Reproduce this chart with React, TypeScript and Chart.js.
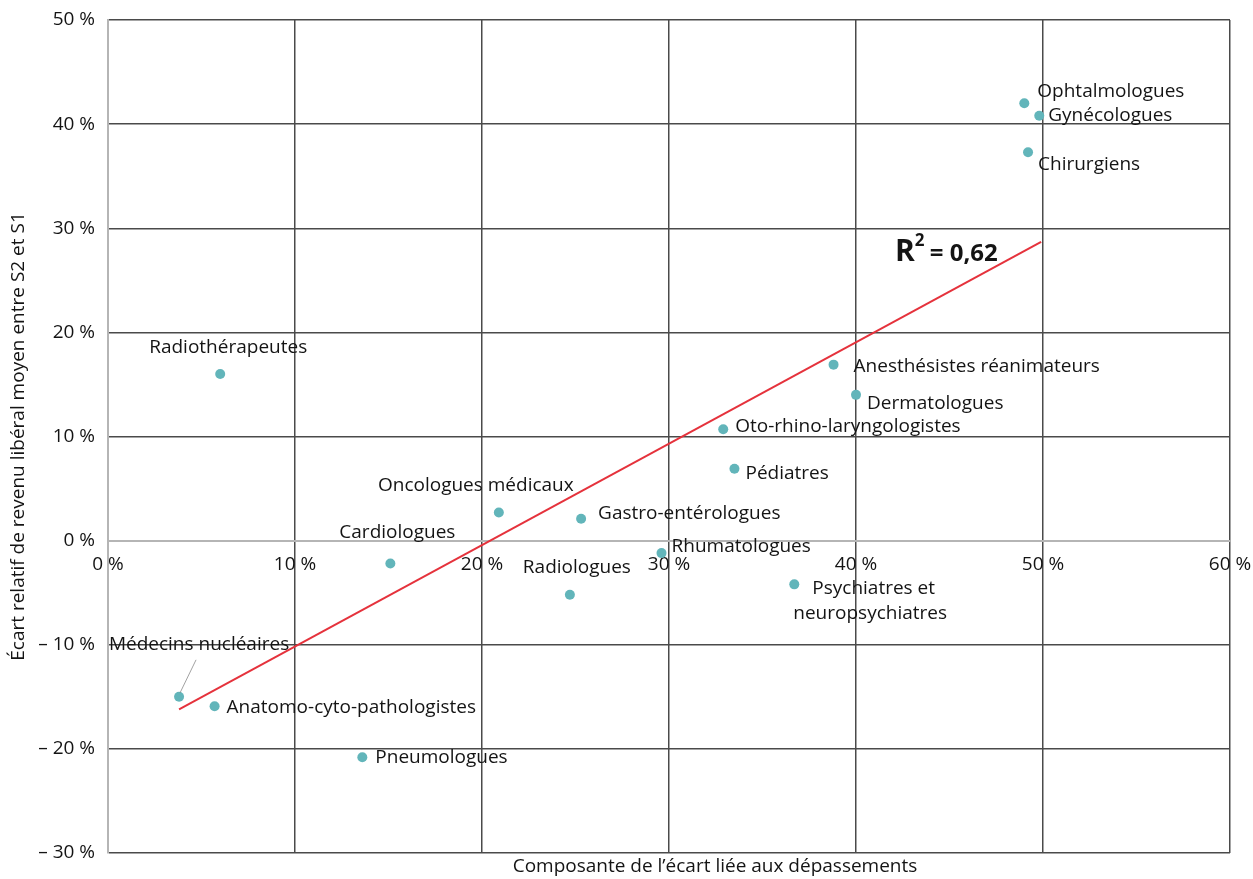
import React, { useEffect, useRef } from 'react';
import { Chart, registerables } from 'chart.js';

Chart.register(...registerables);

// ---- Data ----
const specialties = [
  'Ophtalmologues',
  'Gynécologues',
  'Chirurgiens',
  'Radiothérapeutes',
  'Anesthésistes réanimateurs',
  'Dermatologues',
  'Oto-rhino-laryngologistes',
  'Pédiatres',
  'Oncologues médicaux',
  'Gastro-entérologues',
  'Cardiologues',
  'Rhumatologues',
  'Radiologues',
  'Psychiatres et\nneuropsychiatres',
  'Médecins nucléaires',
  'Anatomo-cyto-pathologistes',
  'Pneumologues',
];
// Composante de l'écart liée aux dépassements (%)
const depassementShare = [49.0, 49.8, 49.2, 6.0, 38.8, 40.0, 32.9, 33.5, 20.9, 25.3, 15.1, 29.6, 24.7, 36.7, 3.8, 5.7, 13.6];
// Écart relatif de revenu libéral moyen entre S2 et S1 (%)
const revenueGap = [42.0, 40.8, 37.3, 16.0, 16.9, 14.0, 10.7, 6.9, 2.7, 2.1, -2.2, -1.2, -5.2, -4.2, -15.0, -15.9, -20.8];
// Trend line ends
const trendX = [3.8, 49.9];
const trendY = [-16.2, 28.7];
const r2Value = '0,62';
const xTitle = 'Composante de l’écart liée aux dépassements';
const yTitle = 'Écart relatif de revenu libéral moyen entre S2 et S1';

// ---- Label placement (pixel offsets from each point) ----
type Place = { align: 'left' | 'center'; dx: number[]; dy: number; leader?: boolean };
const placements: Place[] = [
  { align: 'left', dx: [13], dy: -12 },
  { align: 'left', dx: [9], dy: 0 },
  { align: 'left', dx: [10], dy: 12 },
  { align: 'center', dx: [8], dy: -26 },
  { align: 'left', dx: [20], dy: 2 },
  { align: 'left', dx: [11], dy: 9 },
  { align: 'left', dx: [12], dy: -3 },
  { align: 'left', dx: [11], dy: 5 },
  { align: 'center', dx: [-23], dy: -27 },
  { align: 'left', dx: [17], dy: -5 },
  { align: 'center', dx: [7], dy: -31 },
  { align: 'left', dx: [10], dy: -7 },
  { align: 'center', dx: [7], dy: -27 },
  { align: 'left', dx: [18, -1], dy: 4 },
  { align: 'center', dx: [20], dy: -52, leader: true },
  { align: 'left', dx: [12], dy: 1 },
  { align: 'left', dx: [13], dy: 0 },
];

const FONT = '"Open Sans", "Noto Sans", sans-serif';
const FS = 19;
const TEXT = '#141414';
const POINT = '#62b5ba';
const GRID_DARK = '#4a4a4a';
const GRID_ZERO = '#b5b5b5';

const pct = (v: number) => (v < 0 ? '\u2013 ' + Math.abs(v) : String(v)) + ' %';

const annotations = {
  id: 'annotations',
  afterDatasetsDraw(chart: any) {
    const ctx = chart.ctx as CanvasRenderingContext2D;
    const meta = chart.getDatasetMeta(1);
    ctx.save();
    ctx.font = `${FS}px ${FONT}`;
    ctx.fillStyle = TEXT;
    ctx.textBaseline = 'middle';
    meta.data.forEach((pt: any, i: number) => {
      const p = placements[i];
      const lines = specialties[i].split('\n');
      lines.forEach((line, li) => {
        const dx = p.dx[li] ?? p.dx[0];
        ctx.textAlign = p.align;
        ctx.fillText(line, pt.x + dx, pt.y + p.dy + li * 25);
      });
      if (p.leader) {
        ctx.save();
        ctx.strokeStyle = '#8a8a8a';
        ctx.lineWidth = 0.8;
        ctx.beginPath();
        ctx.moveTo(pt.x + 17, pt.y - 37);
        ctx.lineTo(pt.x + 1, pt.y - 4);
        ctx.stroke();
        ctx.restore();
      }
    });
    // x axis title
    ctx.textAlign = 'center';
    ctx.fillText(xTitle, 715, 867);
    // R² label
    ctx.textAlign = 'left';
    ctx.textBaseline = 'alphabetic';
    ctx.font = `bold 30px ${FONT}`;
    ctx.fillText('R', 895, 261);
    const rw = ctx.measureText('R').width;
    ctx.font = `bold 17px ${FONT}`;
    ctx.fillText('2', 895 + rw, 246);
    ctx.font = `bold 24px ${FONT}`;
    ctx.fillText('= ' + r2Value, 895 + rw + 15, 261);
    ctx.restore();
  },
};

const zeroPad = (s: any) => {
  s.paddingLeft = 0;
  s.paddingRight = 0;
  s.paddingTop = 0;
  s.paddingBottom = 0;
};

export default function App() {
  const ref = useRef<HTMLCanvasElement | null>(null);
  useEffect(() => {
    if (!ref.current) return;
    const chart = new Chart(ref.current, {
      type: 'scatter',
      data: {
        datasets: [
          {
            type: 'line',
            data: trendX.map((x, i) => ({ x, y: trendY[i] })),
            borderColor: '#e5323c',
            borderWidth: 2,
            pointRadius: 0,
            fill: false,
            order: 1,
          } as any,
          {
            data: depassementShare.map((x, i) => ({ x, y: revenueGap[i] })),
            backgroundColor: POINT,
            borderColor: POINT,
            pointRadius: 5,
            pointBorderWidth: 0,
            order: 0,
          },
        ],
      },
      options: {
        responsive: false,
        animation: false,
        layout: { padding: { top: 20, right: 23, bottom: 26, left: 0 } },
        plugins: { legend: { display: false }, tooltip: { enabled: false } },
        scales: {
          x: {
            type: 'linear',
            position: { y: 0 } as any,
            min: 0,
            max: 60,
            ticks: {
              stepSize: 10,
              padding: 13,
              color: TEXT,
              font: { family: FONT, size: FS },
              callback: (v: any) => pct(Number(v)),
              maxRotation: 0,
            },
            grid: {
              drawTicks: false,
              lineWidth: 1.5,
              color: (c: any) => (c.tick && c.tick.value === 0 ? GRID_ZERO : GRID_DARK),
            },
            border: { display: true, color: GRID_ZERO, width: 2 },
            afterFit: zeroPad,
          },
          y: {
            type: 'linear',
            position: 'left',
            min: -30,
            max: 50,
            ticks: {
              stepSize: 10,
              padding: 13,
              color: TEXT,
              font: { family: FONT, size: FS },
              callback: (v: any) => pct(Number(v)),
            },
            grid: {
              drawTicks: false,
              lineWidth: 1.5,
              color: (c: any) => (c.tick && c.tick.value === 0 ? GRID_ZERO : GRID_DARK),
            },
            border: { display: true, color: GRID_ZERO, width: 2 },
            title: {
              display: true,
              text: yTitle,
              color: TEXT,
              font: { family: FONT, size: FS },
              padding: { top: 7, bottom: 0 },
            },
            afterFit: (s: any) => {
              zeroPad(s);
              s.width = 108;
            },
          },
        },
      },
      plugins: [annotations],
    });
    return () => chart.destroy();
  }, []);
  return (
    <div style={{ position: 'fixed', left: 0, top: 0, width: 1253, height: 879, background: '#fff' }}>
      <canvas ref={ref} width={1253} height={879} style={{ display: 'block' }} />
    </div>
  );
}
